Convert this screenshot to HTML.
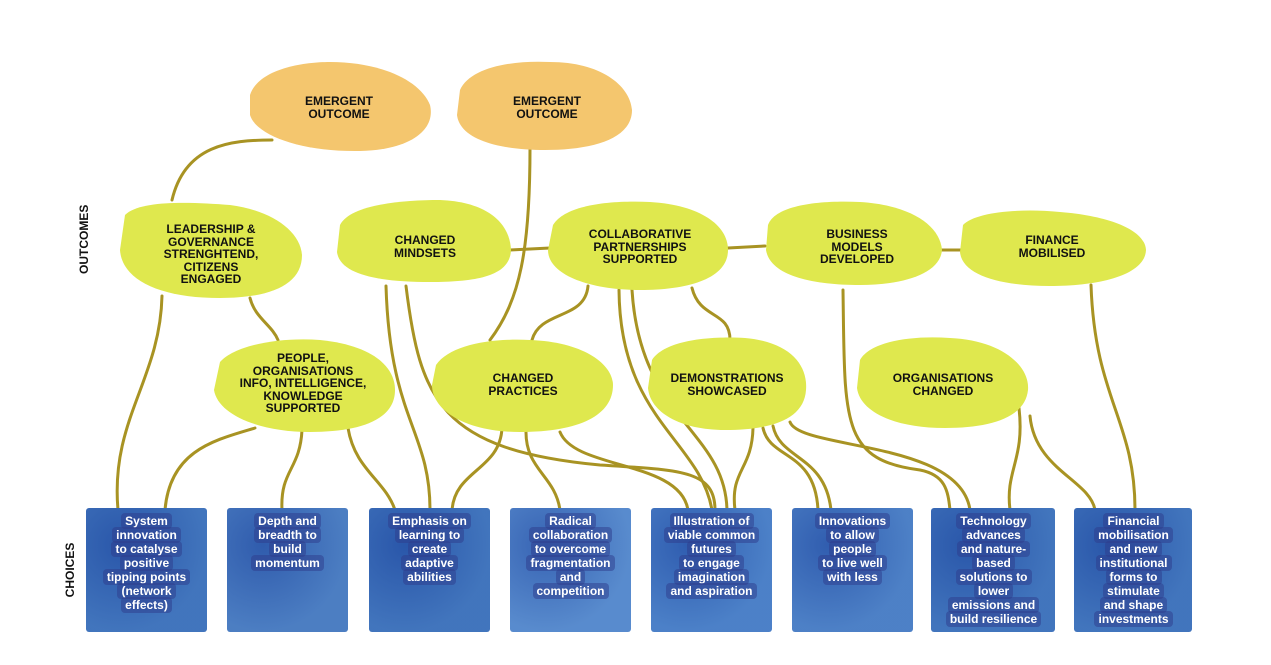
<!DOCTYPE html>
<html><head><meta charset="utf-8">
<style>
html,body{margin:0;padding:0;background:#fff;width:1271px;height:665px;overflow:hidden;position:relative;font-family:"Liberation Sans",sans-serif}
svg{position:absolute;left:0;top:0}
.box{position:absolute;top:508px;width:121px;height:124px;background:#3b6fb8;background-image:radial-gradient(ellipse at 30% 30%,rgba(30,70,160,.6),rgba(80,130,200,.3) 70%);border-radius:3px}
.bt{position:absolute;top:514px;width:141px;text-align:center;color:#fff;font-weight:bold;font-size:12px;line-height:14px}
.bt span{background:rgba(45,60,140,.5);padding:1px 4px;border-radius:4px;-webkit-box-decoration-break:clone;box-decoration-break:clone}
.lab{position:absolute;text-align:center;font-weight:bold;font-size:12px;line-height:12.5px;color:#111;transform:translateX(-50%);white-space:nowrap}
.side{position:absolute;font-weight:bold;font-size:12px;color:#111;transform:rotate(-90deg);transform-origin:center}
</style></head><body>
<svg width="1271" height="665" viewBox="0 0 1271 665">
<g fill="none" stroke="#a89323" stroke-width="3" stroke-linecap="round">
<path d="M272,140 C230,140 185,145 172,200"/>
<path d="M530,148 C530,250 520,300 490,340"/>
<path d="M510,250 L550,248"/>
<path d="M728,248 L765,246"/>
<path d="M940,250 L962,250"/>
<path d="M250,298 C255,318 272,325 278,340"/>
<path d="M162,296 C160,380 110,420 118,510"/>
<path d="M255,428 C215,440 170,450 165,510"/>
<path d="M302,430 C300,470 280,470 282,510"/>
<path d="M348,428 C355,470 385,480 395,510"/>
<path d="M386,286 C390,420 430,430 430,510"/>
<path d="M406,286 C420,400 440,450 600,465 C680,470 715,470 715,510"/>
<path d="M588,286 C585,320 540,310 532,340"/>
<path d="M692,288 C700,320 730,310 730,340"/>
<path d="M619,290 C620,420 700,440 712,510"/>
<path d="M632,290 C640,420 725,430 727,510"/>
<path d="M502,428 C500,470 455,470 452,510"/>
<path d="M526,430 C525,470 555,475 560,510"/>
<path d="M560,432 C575,470 680,460 688,510"/>
<path d="M753,428 C752,470 730,470 735,510"/>
<path d="M763,428 C770,460 815,450 818,510"/>
<path d="M773,426 C780,460 825,455 831,510"/>
<path d="M790,422 C800,450 960,440 970,510"/>
<path d="M843,290 C845,420 840,460 920,470 C945,475 948,490 950,510"/>
<path d="M1019,408 C1025,460 1005,470 1010,510"/>
<path d="M1030,416 C1035,470 1090,480 1095,510"/>
<path d="M1091,285 C1095,400 1135,420 1135,510"/>
</g>
<g fill="#f4c66e">
<path d="M250,95 C258,70 300,62 330,62 C380,62 420,80 430,105 C436,130 410,150 360,151 C300,152 256,135 250,115 Z"/>
<path d="M460,90 C470,68 510,60 550,62 C600,62 630,85 632,110 C632,140 590,150 545,150 C500,150 460,140 457,115 Z"/>
</g>
<g fill="#dfe84e">
<path d="M125,215 C140,200 190,202 230,205 C270,210 300,230 302,255 C302,285 270,298 220,298 C160,298 122,280 120,250 Z"/>
<path d="M340,225 C350,205 400,200 440,200 C490,202 510,225 511,250 C510,275 480,282 430,282 C380,282 340,275 337,252 Z"/>
<path d="M553,225 C565,205 610,200 650,202 C700,205 728,225 728,250 C728,278 690,290 640,290 C590,290 548,275 548,250 Z"/>
<path d="M768,225 C775,205 820,200 860,202 C910,205 940,225 942,250 C940,275 900,285 860,285 C810,285 770,275 766,250 Z"/>
<path d="M963,225 C975,212 1020,208 1060,212 C1110,216 1145,230 1146,250 C1145,275 1100,286 1050,286 C1000,286 962,275 960,252 Z"/>
<path d="M220,362 C235,345 280,337 320,340 C370,345 395,365 395,390 C395,420 360,432 310,432 C260,432 218,415 214,390 Z"/>
<path d="M436,365 C450,345 490,338 530,340 C585,342 613,365 613,385 C613,415 580,432 520,432 C465,432 432,410 432,385 Z"/>
<path d="M652,360 C665,340 710,336 745,338 C790,342 808,365 806,390 C804,420 770,430 725,430 C680,430 650,412 648,388 Z"/>
<path d="M860,360 C870,342 910,335 950,338 C1000,340 1030,365 1028,390 C1025,418 990,428 945,428 C895,428 860,412 857,388 Z"/>
</g>
</svg>
<div class="box" style="left:86px"></div>
<div class="box" style="left:227px;background-color:#4a7cc0"></div>
<div class="box" style="left:369px"></div>
<div class="box" style="left:510px;background-color:#5c8fd0"></div>
<div class="box" style="left:651px;background-color:#4a80c8"></div>
<div class="box" style="left:792px;background-color:#4c80c6"></div>
<div class="box" style="left:931px;width:124px"></div>
<div class="box" style="left:1074px;width:118px"></div>

<div class="bt" style="left:76px"><span>System<br>innovation<br>to catalyse<br>positive<br>tipping points<br>(network<br>effects)</span></div>
<div class="bt" style="left:217px"><span>Depth and<br>breadth to<br>build<br>momentum</span></div>
<div class="bt" style="left:359px"><span>Emphasis on<br>learning to<br>create<br>adaptive<br>abilities</span></div>
<div class="bt" style="left:500px"><span>Radical<br>collaboration<br>to overcome<br>fragmentation<br>and<br>competition</span></div>
<div class="bt" style="left:641px"><span>Illustration of<br>viable common<br>futures<br>to engage<br>imagination<br>and aspiration</span></div>
<div class="bt" style="left:782px"><span>Innovations<br>to allow<br>people<br>to live well<br>with less</span></div>
<div class="bt" style="left:923px"><span>Technology<br>advances<br>and nature-<br>based<br>solutions to<br>lower<br>emissions and<br>build resilience</span></div>
<div class="bt" style="left:1063px"><span>Financial<br>mobilisation<br>and new<br>institutional<br>forms to<br>stimulate<br>and shape<br>investments</span></div>

<div class="lab" style="left:339px;top:95px">EMERGENT<br>OUTCOME</div>
<div class="lab" style="left:547px;top:95px">EMERGENT<br>OUTCOME</div>
<div class="lab" style="left:211px;top:223px">LEADERSHIP &amp;<br>GOVERNANCE<br>STRENGHTEND,<br>CITIZENS<br>ENGAGED</div>
<div class="lab" style="left:425px;top:234px">CHANGED<br>MINDSETS</div>
<div class="lab" style="left:640px;top:228px">COLLABORATIVE<br>PARTNERSHIPS<br>SUPPORTED</div>
<div class="lab" style="left:857px;top:228px">BUSINESS<br>MODELS<br>DEVELOPED</div>
<div class="lab" style="left:1052px;top:234px">FINANCE<br>MOBILISED</div>
<div class="lab" style="left:303px;top:352px">PEOPLE,<br>ORGANISATIONS<br>INFO, INTELLIGENCE,<br>KNOWLEDGE<br>SUPPORTED</div>
<div class="lab" style="left:523px;top:372px">CHANGED<br>PRACTICES</div>
<div class="lab" style="left:727px;top:372px">DEMONSTRATIONS<br>SHOWCASED</div>
<div class="lab" style="left:943px;top:372px">ORGANISATIONS<br>CHANGED</div>

<div class="side" style="left:50px;top:233px;width:68px;text-align:center">OUTCOMES</div>
<div class="side" style="left:40px;top:563px;width:60px;text-align:center">CHOICES</div>
</body></html>
